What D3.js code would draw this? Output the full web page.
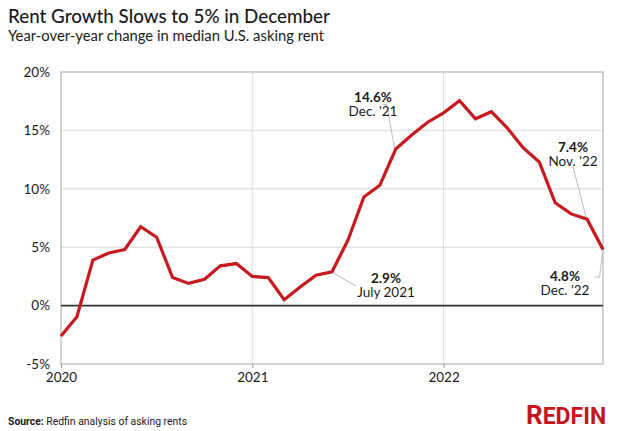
<!DOCTYPE html>
<html>
<head>
<meta charset="utf-8">
<script src="https://cdn.jsdelivr.net/npm/d3@7"></script>
<style>
  html, body { margin: 0; padding: 0; background: #fff; }
  svg { display: block; }
  text { font-family: Lato, "Noto Sans", sans-serif; fill: #1a1a1a; }
</style>
</head>
<body>
<svg id="chart" width="624" height="431"></svg>
<script>
// ---- data ----
const months = [
  "2020-02","2020-03","2020-04","2020-05","2020-06","2020-07","2020-08","2020-09","2020-10","2020-11","2020-12",
  "2021-01","2021-02","2021-03","2021-04","2021-05","2021-06","2021-07","2021-08","2021-09","2021-10","2021-11","2021-12",
  "2022-01","2022-02","2022-03","2022-04","2022-05","2022-06","2022-07","2022-08","2022-09","2022-10","2022-11","2022-12"
];
const rentGrowth = [
  -2.6, -0.95, 3.9, 4.5, 4.8, 6.75, 5.85, 2.4, 1.9, 2.25, 3.4,
  3.6, 2.5, 2.4, 0.5, 1.6, 2.6, 2.9, 5.6, 9.3, 10.3, 13.4, 14.6,
  15.7, 16.5, 17.55, 16.0, 16.6, 15.2, 13.5, 12.3, 8.8, 7.85, 7.4, 4.8
];
const yTicks = [-5, 0, 5, 10, 15, 20];
const xTickMonths = ["2020-02", "2021-02", "2022-02"];
const xTickLabels = ["2020", "2021", "2022"];
const annotations = [
  { month: "2021-12", value: "14.6%", label: "Dec. '21" },
  { month: "2021-07", value: "2.9%", label: "July 2021" },
  { month: "2022-11", value: "7.4%", label: "Nov. '22" },
  { month: "2022-12", value: "4.8%", label: "Dec. '22" }
];

// ---- layout ----
const svg = d3.select("#chart");
const L = 61, R = 603, T = 72, B = 364;
const x = d3.scalePoint().domain(months).range([L, R]).padding(0);
const y = d3.scaleLinear().domain([-5, 20]).range([B, T]);

// title
svg.append("text").attr("x", 8).attr("y", 23)
  .style("font-size", "18.8px").style("font-weight", 500)
  .text("Rent Growth Slows to 5% in December");
svg.append("text").attr("x", 8).attr("y", 41)
  .style("font-size", "14.8px")
  .text("Year-over-year change in median U.S. asking rent");

// horizontal gridlines
svg.append("g").selectAll("line")
  .data(yTicks.filter(d => d !== 0 && d !== -5 && d !== 20))
  .join("line")
  .attr("x1", L).attr("x2", R)
  .attr("y1", d => y(d)).attr("y2", d => y(d))
  .attr("stroke", "#e4e4e4").attr("stroke-width", 1.5);

// vertical gridlines
svg.append("g").selectAll("line")
  .data(xTickMonths.slice(1))
  .join("line")
  .attr("x1", d => x(d)).attr("x2", d => x(d))
  .attr("y1", T).attr("y2", B)
  .attr("stroke", "#dedede").attr("stroke-width", 1);

// frame
svg.append("rect").attr("x", L).attr("y", T).attr("width", R - L).attr("height", B - T)
  .attr("fill", "none").attr("stroke", "#c4c4c4").attr("stroke-width", 1.5);

// zero line
svg.append("line").attr("x1", L).attr("x2", R)
  .attr("y1", y(0)).attr("y2", y(0))
  .attr("stroke", "#333").attr("stroke-width", 1.6);

// y axis labels
const yAxis = d3.axisLeft(y).tickValues(yTicks).tickSize(0).tickPadding(11)
  .tickFormat(d => d + "%");
const gy = svg.append("g").attr("transform", `translate(${L},0)`).call(yAxis);
gy.select(".domain").remove();
gy.selectAll("text").style("font-size", "13.5px").style("font-family", "Lato, sans-serif").attr("fill", "#1a1a1a");

// x axis
const xAxis = d3.axisBottom(x).tickValues(xTickMonths).tickSize(4).tickPadding(4)
  .tickFormat((d, i) => xTickLabels[i]);
const gx = svg.append("g").attr("transform", `translate(0,${B})`).call(xAxis);
gx.select(".domain").remove();
gx.selectAll("line").attr("stroke", "#999");
gx.selectAll("text").style("font-size", "13.5px").style("font-family", "Lato, sans-serif").attr("fill", "#1a1a1a");

// leader lines (drawn before the data line)
const leaderColor = "#bdbdbd";
const lead = (pts) => svg.append("path").attr("d", d3.line()(pts))
  .attr("fill", "none").attr("stroke", leaderColor).attr("stroke-width", 1);
const px = m => x(m);
const py = m => y(rentGrowth[months.indexOf(m)]);
lead([[px("2021-11") - 13, 104.5], [px("2021-11") - 9, 104.5], [px("2021-11") - 1, py("2021-11")]]);
lead([[px("2021-07") + 1, py("2021-07") + 1], [px("2021-07") + 24, 286]]);
lead([[px("2022-11") - 14, 167], [px("2022-11") - 0.5, py("2022-11")]]);
lead([[px("2022-12"), py("2022-12")], [px("2022-12") - 3.5, 277], [px("2022-12") - 8.5, 277]]);

// data line
svg.append("path").datum(rentGrowth)
  .attr("fill", "none").attr("stroke", "#c8191f").attr("stroke-width", 3.2)
  .attr("stroke-linejoin", "miter").attr("stroke-linecap", "butt")
  .attr("d", d3.line().x((d, i) => x(months[i])).y(d => y(d)));

// annotations
const annPos = [[373, 97], [386, 278], [573, 147], [565, 276]];
annotations.forEach((a, i) => {
  const [cx, cy] = annPos[i];
  svg.append("text").attr("x", cx).attr("y", cy + 4.5).attr("text-anchor", "middle")
    .style("font-size", "13.5px").style("font-weight", 700).text(a.value);
  svg.append("text").attr("x", cx).attr("y", cy + 19).attr("text-anchor", "middle")
    .style("font-size", "13.5px").text(a.label);
});

// footer
const src = svg.append("text").attr("x", 8).attr("y", 424.5)
  .style("font-size", "10.4px").style("font-family", "'Liberation Sans Narrow', 'Roboto', sans-serif");
src.append("tspan").style("font-weight", 700).text("Source:");
src.append("tspan").text(" Redfin analysis of asking rents");

const logo = svg.append("text").attr("x", 526).attr("y", 423.5)
  .style("font-family", "'Liberation Sans Narrow', 'Roboto', sans-serif").style("font-weight", 700)
  .attr("fill", "#c4161c").style("fill", "#c4161c");
logo.append("tspan").style("font-size", "26px").text("R");
logo.append("tspan").style("font-size", "23px").text("EDFIN");
</script>
</body>
</html>
